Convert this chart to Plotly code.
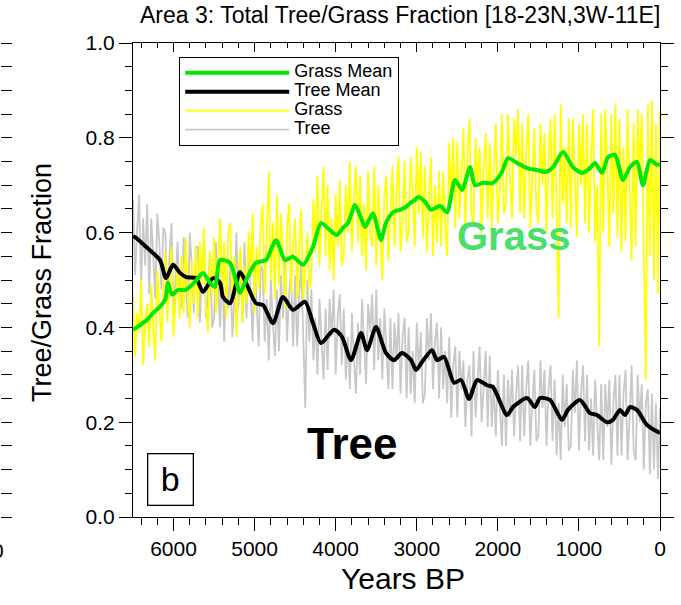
import plotly.graph_objects as go

W, H = 681, 605

# ---------------- data ----------------
grass_mean_years = [6500, 6463, 6327, 6253, 6160, 6100, 6068, 6019, 5945, 5850, 5735, 5637, 5550, 5488,
                    5427, 5303, 5180, 5106, 4983, 4860, 4736, 4625, 4527, 4403, 4280, 4181, 4070, 3990,
                    3910, 3848, 3761, 3687, 3638, 3540, 3478, 3441, 3380, 3293, 3207, 3133, 3083, 3022,
                    2985, 2898, 2824, 2713, 2627, 2528, 2442, 2343, 2282, 2183, 2060, 1949, 1875, 1764,
                    1640, 1517, 1418, 1320, 1196, 1073, 962, 863, 802, 715, 641, 555, 456, 370, 284,
                    210, 123, 37, 0]
grass_mean_vals = [0.395, 0.399, 0.416, 0.43, 0.445, 0.46, 0.494, 0.469, 0.479, 0.479, 0.496, 0.515, 0.494, 0.485,
                   0.542, 0.536, 0.473, 0.50, 0.536, 0.542, 0.584, 0.542, 0.549, 0.532, 0.57, 0.62, 0.605, 0.595,
                   0.61, 0.62, 0.658, 0.631, 0.612, 0.641, 0.605, 0.584, 0.62, 0.643, 0.648, 0.654, 0.662, 0.669,
                   0.675, 0.665, 0.648, 0.656, 0.643, 0.711, 0.69, 0.738, 0.70, 0.705, 0.705, 0.728, 0.757, 0.747,
                   0.736, 0.732, 0.728, 0.738, 0.77, 0.738, 0.726, 0.736, 0.747, 0.726, 0.759, 0.764, 0.711, 0.738, 0.749,
                   0.70, 0.753, 0.743, 0.745]

tree_mean_years = [6500, 6463, 6340, 6167, 6093, 6006, 5920, 5846, 5723, 5637, 5514, 5427, 5390, 5303,
                   5180, 5106, 4983, 4896, 4773, 4650, 4527, 4379, 4280, 4181, 4020, 3922, 3811, 3687,
                   3614, 3503, 3380, 3281, 3182, 3071, 3009, 2935, 2812, 2750, 2664, 2540, 2454, 2355,
                   2257, 2134, 2060, 1887, 1813, 1640, 1542, 1480, 1357, 1209, 1135, 987, 863, 777,
                   654, 580, 493, 432, 370, 284, 160, 0]
tree_mean_vals = [0.592, 0.589, 0.57, 0.542, 0.504, 0.532, 0.515, 0.506, 0.504, 0.475, 0.504, 0.494, 0.464, 0.451,
                  0.517, 0.494, 0.451, 0.447, 0.409, 0.464, 0.437, 0.454, 0.409, 0.367, 0.395, 0.38, 0.331, 0.388,
                  0.352, 0.401, 0.346, 0.331, 0.346, 0.331, 0.31, 0.327, 0.352, 0.331, 0.338, 0.283, 0.289, 0.249,
                  0.289, 0.278, 0.274, 0.215, 0.232, 0.251, 0.232, 0.251, 0.247, 0.205, 0.226, 0.247, 0.219, 0.215,
                  0.20, 0.205, 0.226, 0.215, 0.232, 0.226, 0.194, 0.177]

# raw series, 25-year sampling from 6500 BP to 0 BP
raw_years = list(range(6500, -1, -25))
grass_raw = [
    0.47, 0.34, 0.43, 0.39, 0.50, 0.32, 0.41, 0.45,
    0.36, 0.49, 0.40, 0.33, 0.52, 0.44, 0.37, 0.48,
    0.56, 0.41, 0.50, 0.57, 0.38, 0.46, 0.53, 0.42,
    0.55, 0.43, 0.59, 0.47, 0.40, 0.54, 0.45, 0.57,
    0.42, 0.58, 0.49, 0.61, 0.44, 0.39, 0.56, 0.47,
    0.59, 0.43, 0.53, 0.63, 0.47, 0.58, 0.42, 0.60,
    0.62, 0.46, 0.55, 0.38, 0.50, 0.57, 0.41, 0.53,
    0.45, 0.60, 0.51, 0.64, 0.43, 0.57, 0.48, 0.62,
    0.66, 0.47, 0.59, 0.73, 0.50, 0.62, 0.46, 0.68,
    0.49, 0.64, 0.55, 0.44, 0.61, 0.66, 0.47, 0.58,
    0.63, 0.46, 0.57, 0.65, 0.45, 0.52, 0.60, 0.48,
    0.51, 0.67, 0.56, 0.72, 0.53, 0.64, 0.74, 0.55,
    0.70, 0.52, 0.63, 0.50, 0.68, 0.57, 0.71, 0.53,
    0.55, 0.70, 0.60, 0.75, 0.56, 0.67, 0.74, 0.58,
    0.72, 0.55, 0.66, 0.52, 0.73, 0.60, 0.57, 0.74,
    0.53, 0.70, 0.61, 0.50, 0.68, 0.72, 0.54, 0.65,
    0.74, 0.57, 0.69, 0.76, 0.56, 0.63, 0.75, 0.58,
    0.60, 0.76, 0.68, 0.57, 0.78, 0.64, 0.77, 0.59,
    0.74, 0.56, 0.66, 0.76, 0.55, 0.70, 0.58, 0.73,
    0.57, 0.73, 0.62, 0.55, 0.79, 0.66, 0.80, 0.61,
    0.79, 0.63, 0.72, 0.82, 0.61, 0.76, 0.84, 0.64,
    0.62, 0.80, 0.70, 0.78, 0.60, 0.74, 0.81, 0.63,
    0.79, 0.61, 0.73, 0.83, 0.62, 0.69, 0.85, 0.64,
    0.66, 0.85, 0.72, 0.63, 0.84, 0.76, 0.86, 0.64,
    0.83, 0.63, 0.77, 0.85, 0.61, 0.72, 0.82, 0.65,
    0.62, 0.83, 0.70, 0.81, 0.60, 0.76, 0.84, 0.63,
    0.85, 0.65, 0.42, 0.87, 0.66, 0.78, 0.62, 0.84,
    0.61, 0.84, 0.73, 0.59, 0.83, 0.70, 0.85, 0.62,
    0.83, 0.60, 0.76, 0.86, 0.58, 0.70, 0.36, 0.85,
    0.60, 0.86, 0.74, 0.57, 0.85, 0.64, 0.87, 0.59,
    0.84, 0.56, 0.78, 0.58, 0.86, 0.67, 0.54, 0.83,
    0.57, 0.86, 0.72, 0.85, 0.58, 0.29, 0.87, 0.55,
    0.88, 0.50, 0.83, 0.47, 0.86,
]
tree_raw = [
    0.67, 0.51, 0.60, 0.68, 0.49, 0.63, 0.53, 0.66,
    0.47, 0.63, 0.55, 0.46, 0.64, 0.58, 0.48, 0.61,
    0.60, 0.44, 0.55, 0.62, 0.43, 0.50, 0.58, 0.45,
    0.44, 0.59, 0.50, 0.42, 0.60, 0.53, 0.43, 0.57,
    0.57, 0.41, 0.52, 0.59, 0.42, 0.47, 0.56, 0.40,
    0.42, 0.58, 0.49, 0.40, 0.55, 0.37, 0.51, 0.44,
    0.53, 0.38, 0.46, 0.60, 0.44, 0.56, 0.41, 0.58,
    0.42, 0.57, 0.48, 0.37, 0.54, 0.45, 0.36, 0.53,
    0.52, 0.37, 0.46, 0.33, 0.50, 0.41, 0.34, 0.48,
    0.35, 0.51, 0.42, 0.54, 0.37, 0.47, 0.52, 0.36,
    0.51, 0.36, 0.47, 0.53, 0.38, 0.23, 0.50, 0.37,
    0.48, 0.33, 0.42, 0.30, 0.46, 0.36, 0.29, 0.44,
    0.31, 0.46, 0.38, 0.48, 0.30, 0.42, 0.47, 0.32,
    0.44, 0.29, 0.38, 0.27, 0.43, 0.33, 0.26, 0.41,
    0.30, 0.46, 0.36, 0.28, 0.45, 0.39, 0.47, 0.31,
    0.48, 0.33, 0.42, 0.29, 0.44, 0.36, 0.27, 0.42,
    0.27, 0.41, 0.33, 0.43, 0.26, 0.38, 0.42, 0.25,
    0.40, 0.26, 0.35, 0.24, 0.41, 0.31, 0.39, 0.24,
    0.26, 0.42, 0.33, 0.43, 0.27, 0.37, 0.41, 0.25,
    0.40, 0.27, 0.35, 0.24, 0.38, 0.21, 0.32, 0.36,
    0.21, 0.35, 0.27, 0.33, 0.19, 0.29, 0.32, 0.17,
    0.35, 0.21, 0.30, 0.36, 0.20, 0.27, 0.35, 0.19,
    0.34, 0.19, 0.28, 0.17, 0.31, 0.23, 0.15, 0.30,
    0.15, 0.29, 0.21, 0.31, 0.17, 0.26, 0.32, 0.16,
    0.32, 0.17, 0.27, 0.33, 0.15, 0.24, 0.31, 0.16,
    0.17, 0.33, 0.23, 0.31, 0.15, 0.27, 0.32, 0.16,
    0.29, 0.13, 0.24, 0.12, 0.30, 0.19, 0.28, 0.14,
    0.15, 0.31, 0.22, 0.33, 0.14, 0.26, 0.32, 0.16,
    0.30, 0.14, 0.25, 0.13, 0.29, 0.20, 0.12, 0.28,
    0.12, 0.28, 0.19, 0.29, 0.11, 0.24, 0.30, 0.13,
    0.30, 0.13, 0.26, 0.31, 0.12, 0.21, 0.32, 0.14,
    0.12, 0.30, 0.20, 0.28, 0.10, 0.24, 0.27, 0.09,
    0.26, 0.10, 0.24, 0.08, 0.23,
]

x_tickvals = [6000, 5000, 4000, 3000, 2000, 1000, 0]
x_ticktext = ["6000", "5000", "4000", "3000", "2000", "1000", "0"]
y_tickvals = [0.0, 0.2, 0.4, 0.6, 0.8, 1.0]
y_ticktext = ["0.0", "0.2", "0.4", "0.6", "0.8", "1.0"]

title_text = "Area 3: Total Tree/Grass Fraction [18-23N,3W-11E]"

FONT = "Liberation Sans, Arial, Helvetica, sans-serif"
LEG_FS = 18

def leg(name):
    return "<span style='font-size:%dpx'>%s</span>" % (LEG_FS, name)

fig = go.Figure()
fig.add_trace(go.Scatter(x=raw_years, y=tree_raw, mode="lines", name=leg("Tree"),
                         line=dict(color="#c8c8c8", width=1.8), legendrank=4))
fig.add_trace(go.Scatter(x=raw_years, y=grass_raw, mode="lines", name=leg("Grass"),
                         line=dict(color="#ffff00", width=1.8), legendrank=3))
fig.add_trace(go.Scatter(x=tree_mean_years, y=tree_mean_vals, mode="lines", name=leg("Tree Mean"),
                         line=dict(color="black", width=4, shape="spline", smoothing=0.7), legendrank=2))
fig.add_trace(go.Scatter(x=grass_mean_years, y=grass_mean_vals, mode="lines", name=leg("Grass Mean"),
                         line=dict(color="#00e800", width=4, shape="spline", smoothing=0.7), legendrank=1))
# helper traces so that the mirrored frame axes and the neighbour-panel ticks are drawn
fig.add_trace(go.Scatter(x=[None], y=[None], xaxis="x2", yaxis="y2", showlegend=False, hoverinfo="skip"))
fig.add_trace(go.Scatter(x=[None], y=[None], xaxis="x", yaxis="y3", showlegend=False, hoverinfo="skip"))

xdom = [133 / W, 660 / W]
ydom = [1 - 517 / H, 1 - 43 / H]

axis_common = dict(showgrid=False, zeroline=False, showline=True, linecolor="black", linewidth=1.2,
                   tickcolor="black", tickwidth=1.2)

fig.update_layout(
    width=W, height=H,
    margin=dict(l=0, r=0, t=0, b=0, autoexpand=False),
    paper_bgcolor="white", plot_bgcolor="white",
    font=dict(family=FONT, color="black"),
    showlegend=True,
    legend=dict(x=179 / W, y=1 - 57 / H, xanchor="left", yanchor="top",
                bgcolor="white", bordercolor="black", borderwidth=1.2,
                font=dict(size=11, family=FONT, color="black"),
                itemwidth=104, tracegroupgap=0, traceorder="normal"),
    xaxis=dict(domain=xdom, range=[6500, 0], anchor="y",
               tickmode="array", tickvals=x_tickvals, ticktext=x_ticktext,
               ticks="outside", ticklen=13, tickfont=dict(size=21, family=FONT),
               minor=dict(dtick=200, tick0=0, ticks="outside", ticklen=7, tickcolor="black", tickwidth=1.2),
               **axis_common),
    yaxis=dict(domain=ydom, range=[0, 1], anchor="x",
               tickmode="array", tickvals=y_tickvals, ticktext=y_ticktext,
               ticks="outside", ticklen=13, tickfont=dict(size=21, family=FONT),
               minor=dict(dtick=0.05, tick0=0, ticks="outside", ticklen=7, tickcolor="black", tickwidth=1.2),
               **axis_common),
    xaxis2=dict(domain=xdom, range=[6500, 0], anchor="y2", overlaying="x", side="top",
                tickmode="array", tickvals=x_tickvals, showticklabels=False,
                ticks="inside", ticklen=9,
                minor=dict(dtick=200, tick0=0, ticks="inside", ticklen=5, tickcolor="black", tickwidth=1.2),
                **axis_common),
    yaxis2=dict(domain=ydom, range=[0, 1], anchor="x2", overlaying="y", side="right",
                tickmode="array", tickvals=y_tickvals, showticklabels=False,
                ticks="outside", ticklen=13,
                minor=dict(dtick=0.05, tick0=0, ticks="outside", ticklen=7, tickcolor="black", tickwidth=1.2),
                **axis_common),
    yaxis3=dict(domain=ydom, range=[0, 1], anchor="free", position=0, overlaying="y", side="right",
                dtick=0.05, tick0=0, showticklabels=False, ticks="outside", ticklen=11,
                showgrid=False, zeroline=False, showline=False, tickcolor="black", tickwidth=1.2),
)

ann = [
    dict(text=title_text, x=400 / W, y=1 - 15 / H, font=dict(size=23)),
    dict(text="Years BP", x=403 / W, y=1 - 578 / H, font=dict(size=30)),
    dict(text="Tree/Grass Fraction", x=42 / W, y=1 - 283 / H, textangle=-90, font=dict(size=27)),
    dict(text="<b>Grass</b>", x=513 / W, y=1 - 236 / H, font=dict(size=40, color="#48e068")),
    dict(text="<b>Tree</b>", x=352 / W, y=1 - 443 / H, font=dict(size=44, color="black")),
    dict(text="b", x=170.5 / W, y=1 - 479.5 / H, font=dict(size=34), width=44, height=50,
         bordercolor="black", borderwidth=1.3, borderpad=0, bgcolor="white"),
    dict(text="0", x=6 / W, y=1 - 550 / H, xanchor="right", font=dict(size=21)),
]
for a in ann:
    a.setdefault("xanchor", "center")
    a.setdefault("yanchor", "middle")
    fig.add_annotation(xref="paper", yref="paper", showarrow=False, **a)

fig.write_html("out.html")
